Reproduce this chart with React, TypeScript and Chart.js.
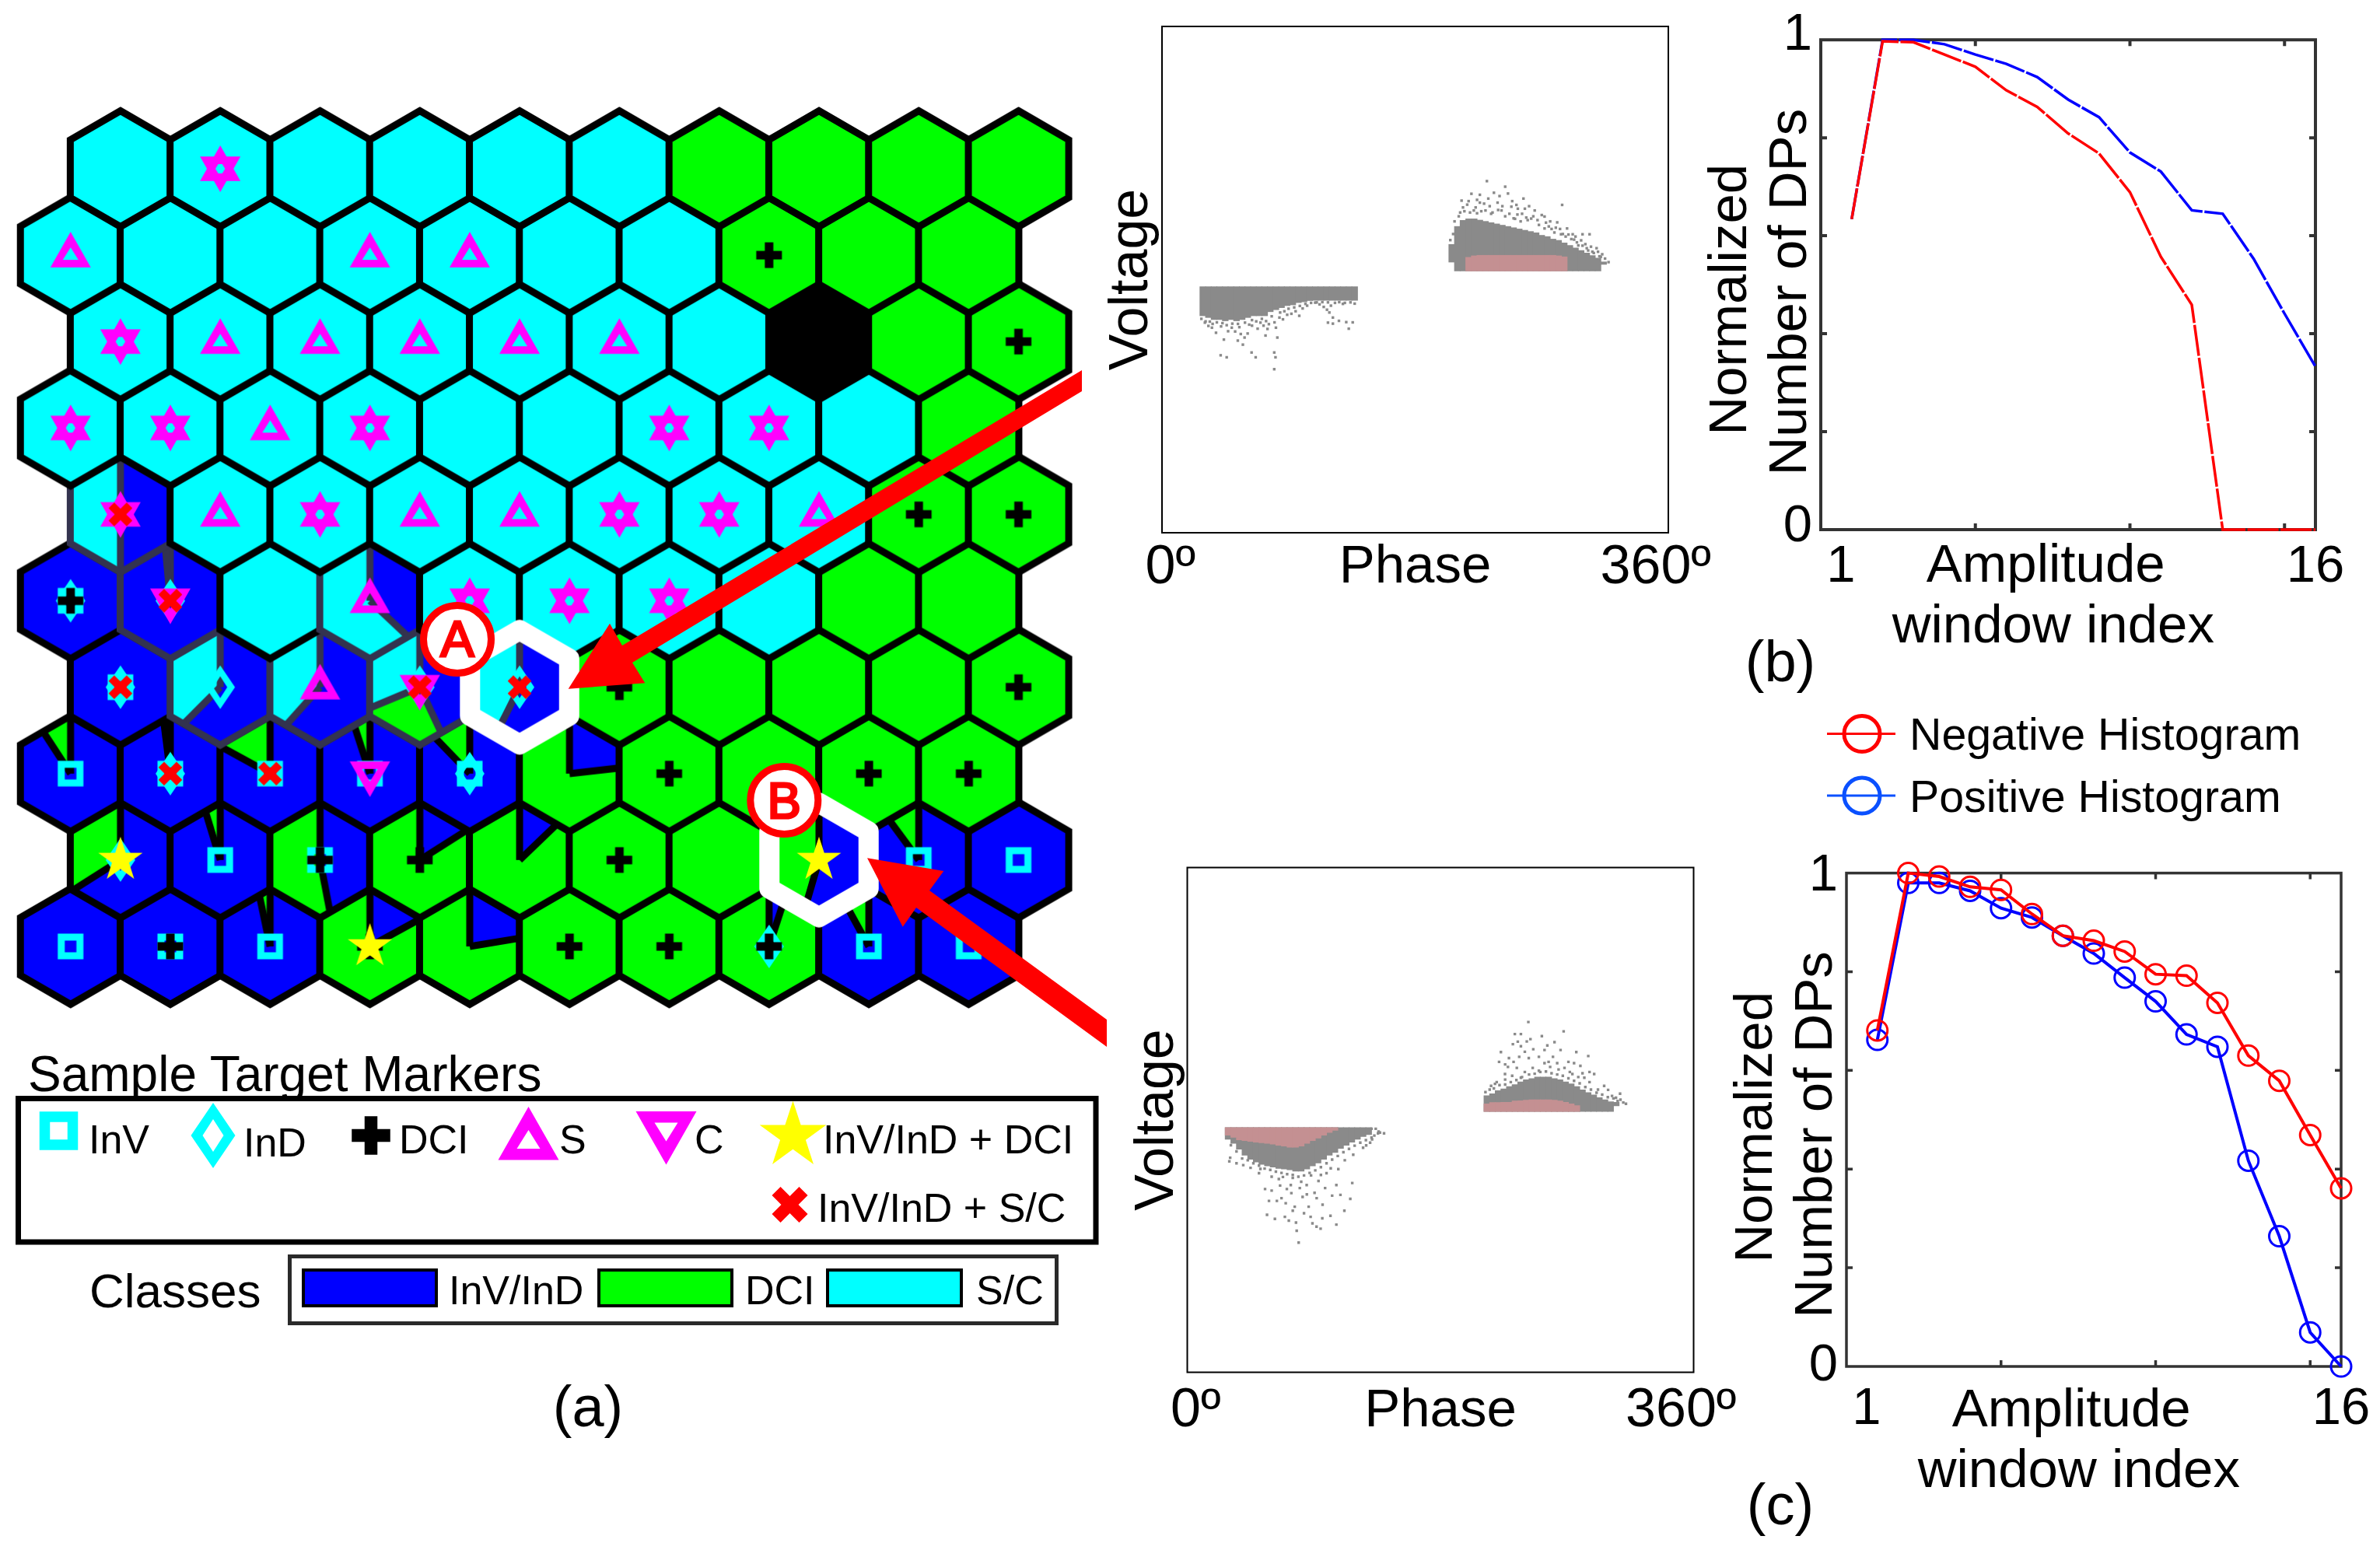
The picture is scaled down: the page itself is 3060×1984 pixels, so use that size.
import React, { useEffect, useRef } from "react";
import { Chart, registerables } from "chart.js";

Chart.register(...registerables);

const FONT = "'Liberation Sans', Arial, sans-serif";

/* ---------- SOM map data (a) ---------- */
const CELL_CLASSES = [
  "CCCCCCGGGG",
  "CCCCCCCGGG",
  "CCCCCCCKGG",
  "CCCCCCCCCG",
  "CCCCCCCCGG",
  "BBCCCCCCGG",
  "BCCCCGGGGG",
  "BBBBBBGGGG",
  "BBBGGGGGGB",
  "BBBGGGGGBB",
];
// row, col, blue %, green %, cyan % (clockwise from 12 o'clock)
const MIXED_CELLS: number[][] = [
  [4, 0, 50, 0, 50],
  [5, 1, 98.5, 0, 1.5],
  [5, 3, 37, 0, 63],
  [6, 1, 62.5, 0, 37.5],
  [6, 2, 61.6, 0, 38.4],
  [6, 3, 43, 25.7, 31.3],
  [6, 4, 57.4, 0, 42.6],
  [7, 0, 90.8, 9.2, 0],
  [7, 1, 98, 2, 0],
  [7, 2, 83, 17, 0],
  [7, 3, 95, 5, 0],
  [7, 4, 87.8, 12.2, 0],
  [7, 5, 23.2, 76.8, 0],
  [8, 0, 66, 34, 0],
  [8, 1, 95.3, 4.7, 0],
  [8, 2, 47, 53, 0],
  [8, 3, 16, 84, 0],
  [8, 4, 12.8, 87.2, 0],
  [8, 7, 54.5, 45.5, 0],
  [8, 8, 89.9, 10.1, 0],
  [9, 2, 96.7, 3.3, 0],
  [9, 3, 17, 83, 0],
  [9, 4, 22.4, 77.6, 0],
  [9, 7, 5, 95, 0],
  [9, 8, 92, 8, 0],
];
const GRAY_OUTLINE_CELLS = [[4, 0], [5, 1], [6, 1], [6, 2], [5, 3], [6, 3], [6, 4]];
const HIGHLIGHT_CELLS = [[6, 4], [8, 7]];

const INV_CELLS = [[5, 0], [6, 0], [7, 0], [7, 1], [7, 2], [7, 3], [7, 4], [8, 1], [8, 2], [8, 8], [8, 9], [9, 0], [9, 1], [9, 2], [9, 8], [9, 9]];
const IND_CELLS = [[5, 0], [5, 1], [6, 0], [6, 1], [6, 3], [6, 4], [7, 1], [7, 4], [8, 0], [9, 7]];
const DCI_CELLS = [[1, 7], [2, 9], [4, 8], [4, 9], [5, 0], [6, 5], [6, 9], [7, 6], [7, 8], [7, 9], [8, 2], [8, 3], [8, 5], [9, 1], [9, 3], [9, 5], [9, 6], [9, 7]];
const S_CELLS = [[0, 1], [1, 0], [1, 3], [1, 4], [2, 0], [2, 1], [2, 2], [2, 3], [2, 4], [2, 5], [3, 0], [3, 1], [3, 2], [3, 3], [3, 6], [3, 7], [4, 0], [4, 1], [4, 2], [4, 3], [4, 4], [4, 5], [4, 6], [4, 7], [5, 3], [5, 4], [5, 5], [5, 6], [6, 2]];
const C_CELLS = [[0, 1], [2, 0], [3, 0], [3, 1], [3, 3], [3, 6], [3, 7], [4, 0], [4, 2], [4, 5], [4, 6], [5, 1], [5, 4], [5, 5], [5, 6], [6, 3], [7, 3]];
const STAR_CELLS = [[8, 0], [8, 7], [9, 3]];
const CROSS_CELLS = [[4, 0], [5, 1], [6, 0], [6, 3], [6, 4], [7, 1], [7, 2]];

/* ---------- Phase-voltage panel (b) ---------- */
const B_NEG_PHASE = [29, 33, 37, 41, 45, 49, 53, 57, 61, 65, 69, 73, 77, 81, 85, 89, 93, 97, 101, 105, 109, 113, 117, 121, 125, 129, 133, 137];
const B_NEG_LOW = [-14.3, -15, -15.8, -15.8, -16.3, -15.8, -16.3, -15.8, -15, -14.3, -14.3, -14.3, -12.7, -11.9, -11.1, -10.3, -10, -9.1, -8.8, -8.3, -8.2, -8.2, -8.2, -8.2, -8.2, -8.2, -8.2, -8.2];
const B_NEG_HIGH = [-2.8, -2.8, -2.8, -2.8, -2.8, -2.8, -2.8, -2.8, -2.8, -2.8, -2.8, -2.8, -2.8, -2.8, -2.8, -2.8, -2.8, -2.8, -2.8, -2.8, -2.8, -2.8, -2.8, -2.8, -2.8, -2.8, -2.8, -2.8];
const B_POS_PHASE = [206, 210, 214, 218, 222, 226, 230, 234, 238, 242, 246, 250, 254, 258, 262, 266, 270, 274, 278, 282, 286, 290, 294, 298, 302, 306, 310, 314];
const B_POS_LOW = [6.9, 3.4, 3.4, 3.4, 3.4, 3.4, 3.4, 3.4, 3.4, 3.4, 3.4, 3.4, 3.4, 3.4, 3.4, 3.4, 3.4, 3.4, 3.4, 3.4, 3.4, 3.4, 3.4, 3.4, 3.4, 3.4, 3.4, 6];
const B_POS_HIGH = [13.9, 21, 23.4, 24, 24, 23.5, 23, 22.5, 22, 21.5, 21, 20.5, 20, 19.5, 19, 18.5, 17.5, 17, 16, 15.5, 14.5, 13.5, 12.5, 11.5, 10.5, 9.5, 8.5, 7];
const B_PINK_PHASE = [218, 222, 226, 230, 234, 238, 242, 246, 250, 254, 258, 262, 266, 270, 274, 278, 282, 286];
const B_PINK_LOW = [3.4, 3.4, 3.4, 3.4, 3.4, 3.4, 3.4, 3.4, 3.4, 3.4, 3.4, 3.4, 3.4, 3.4, 3.4, 3.4, 3.4, 3.4];
const B_PINK_HIGH = [8.8, 9.4, 9.6, 9.6, 9.6, 9.6, 9.6, 9.6, 9.6, 9.6, 9.6, 9.6, 9.6, 9.6, 9.6, 9.6, 9.4, 9];
const B_NEG_DOTS = [[41.7, -29.9], [46, -30.7], [63.7, -28.8], [66.6, -30.7], [79.8, -28.8], [80.7, -30.7], [79.8, -35.4], [44, -23.7], [53.9, -24.1], [57.5, -25.7], [58.7, -22.9], [73.6, -22.1], [82, -22.9], [35.5, -19], [38.4, -21], [49.6, -19], [60.9, -21.3], [72.2, -18.2], [121.5, -17.4], [125.8, -16.3], [135.6, -16.9], [132.8, -19.4], [121.5, -15], [117.3, -11.9], [97.6, -14.3], [92, -13.5], [83.5, -15], [103.2, -10.3], [108.9, -9.1], [120.1, -10.3], [128.6, -9.6], [30.5, -17], [33, -18.3], [42, -18.5], [47, -20.4], [55, -18.8], [64, -18.2], [68, -19.4], [76, -17.6], [80, -16.9], [86, -15.7], [89, -13.9], [95, -12.5], [100, -11.4], [112, -9.8], [115, -10.8], [119, -13],
  [28, -15.5], [31, -16.5], [34, -16.6], [36, -17.5], [39, -16.9], [43, -17.2], [46, -18], [50, -17.4], [52, -20.5], [54, -17.5], [56, -21.5], [59, -17], [62, -17.8], [64, -16], [67, -16.5], [70, -17], [71, -15.5], [74, -16.4], [75, -19.5], [78, -14.5], [81, -19], [84, -13], [87, -12.5], [90, -11.5], [94, -11], [98, -10.4], [102, -9.6], [106, -9.2], [110, -9], [114, -8.9], [118, -9], [123, -9.2], [126, -8.9], [130, -9.2], [134, -9], [137, -9.5], [118, -17], [131, -16.8]];
const B_POS_DOTS = [[231, 38.9], [244, 36.7], [220, 33.9], [226, 33.5], [213, 31.2], [217, 29.6], [226, 30.4], [236, 34.3], [246, 34], [284.5, 29.5], [257, 32], [238.6, 30.4], [248.4, 28.8], [258, 28], [265, 27.3], [272, 24.9], [281, 22.6], [288, 20.2], [292, 17.9], [299, 17.9], [304, 17.9], [309, 12.4], [313, 10], [317.5, 6.9], [241.4, 27.3], [252.7, 25.7], [262.5, 24.1], [221.7, 27.3], [230, 27.3], [275, 21], [283.7, 17.9], [295, 14.7], [302, 12.4], [212, 26.5], [224, 26.2], [234, 26], [244, 25], [250, 24.2], [255, 23], [260, 23.5], [268, 21.6], [272, 20.2], [279, 18.6], [287, 17], [293, 15.8], [299, 13.4], [306, 11], [311, 9.2], [315, 8.3], [205, 15.6], [207, 18],
  [208, 23], [211, 25], [215, 27], [219, 26.5], [223, 28.5], [227, 27], [229, 30], [233, 29], [235, 26.5], [239, 27.5], [242, 29], [247, 26], [249, 31], [251, 24], [253, 28], [256, 26], [259, 24.5], [261, 29], [264, 25], [267, 23.5], [270, 25.5], [273, 22.5], [276, 23], [277, 20], [280, 20.5], [283, 20], [285, 18], [289, 17.8], [291, 16], [294, 17], [296, 13.5], [298, 15.5], [301, 14], [303, 11.5], [305, 13], [307, 10.5], [310, 11], [312, 9], [214, 28.5], [218, 31], [224, 31.5], [232, 32], [240, 33], [252, 29.5]];

/* ---------- Phase-voltage panel (c) ---------- */
const C_NEG_PHASE = [29, 33, 37, 41, 45, 49, 53, 57, 61, 65, 69, 73, 77, 81, 85, 89, 93, 97, 101, 105, 109, 113, 117, 121, 125, 129];
const C_NEG_LOW = [-7.7, -9.3, -11.6, -14, -15.6, -16.7, -17.6, -18.2, -18.7, -19.2, -19.5, -19.8, -20.3, -20.3, -19.5, -18.2, -17.1, -15.6, -14, -12.9, -11.3, -10.1, -8.8, -7.7, -6.6, -5.8];
const C_NEG_HIGH = [-3, -3, -3, -3, -3, -3, -3, -3, -3, -3, -3, -3, -3, -3, -3, -3, -3, -3, -3, -3, -3, -3, -3, -3, -3, -3];
const C_NEG_PINK_PHASE = [29, 33, 37, 41, 45, 49, 53, 57, 61, 65, 69, 73, 77, 81, 85, 89, 93, 97, 101, 105];
const C_NEG_PINK_LOW = [-6.1, -6.9, -7.9, -8.2, -8.5, -8.8, -9.1, -9.3, -9.6, -10.1, -10.4, -10.8, -10.8, -10.4, -9.3, -8.2, -7.2, -6.1, -5, -4.1];
const C_NEG_PINK_HIGH = [-3, -3, -3, -3, -3, -3, -3, -3, -3, -3, -3, -3, -3, -3, -3, -3, -3, -3, -3, -3];
const C_POS_PHASE = [213, 217, 221, 225, 229, 233, 237, 241, 245, 249, 253, 257, 261, 265, 269, 273, 277, 281, 285, 289, 293, 297, 301, 305];
const C_POS_LOW = [3.3, 3.3, 3.3, 3.3, 3.3, 3.3, 3.3, 3.3, 3.3, 3.3, 3.3, 3.3, 3.3, 3.3, 3.3, 3.3, 3.3, 3.3, 3.3, 3.3, 3.3, 3.3, 3.3, 5.6];
const C_POS_HIGH = [9.6, 10.4, 11.6, 12.3, 13.2, 14, 15.1, 15.9, 16.4, 17, 17, 17, 16.4, 15.9, 15.1, 14.3, 13.2, 11.9, 10.8, 9.9, 8.8, 8, 7.2, 7];
const C_POS_PINK_PHASE = [213, 217, 221, 225, 229, 233, 237, 241, 245, 249, 253, 257, 261, 265, 269, 273, 277];
const C_POS_PINK_LOW = [3.3, 3.3, 3.3, 3.3, 3.3, 3.3, 3.3, 3.3, 3.3, 3.3, 3.3, 3.3, 3.3, 3.3, 3.3, 3.3, 3.3];
const C_POS_PINK_HIGH = [6.4, 6.9, 6.9, 7, 7, 7.5, 7.6, 7.8, 8, 8, 8, 8, 7.8, 7.5, 7, 6.4, 5.7];
const C_NEG_DOTS = [[79.2, -48.6], [56.7, -37.6], [62.3, -39.2], [69.4, -38.4], [77.3, -40.7], [77.8, -43.9], [72.2, -39.9], [87.7, -38.4], [91.9, -42.3], [94.8, -43.1], [106, -41.5], [101.8, -38], [111.7, -36], [115.9, -31.3], [117.3, -25], [106, -25.8], [108.9, -29.7], [96.2, -33.6], [86.3, -34.4], [76.4, -34.4], [82, -30.5], [90.5, -28.9], [93.3, -24.2], [70.8, -27.4], [65.1, -23.4], [55.3, -27.4], [58.1, -32.1], [63.7, -32.1], [73.6, -25.8], [84.9, -25.8], [99, -21.1], [107.4, -19.5], [51, -21.1], [39.8, -17.9], [29.9, -16.4], [36.9, -10.1], [127.2, -10.1], [135.6, -5.3], [139.9, -5.3], [131.4, -7.7], [30.5, -15], [35, -17.2], [45, -19], [52, -19.4], [60, -22.5], [68, -22.6], [75, -23], [81, -24.5], [88, -22], [95, -21.8], [102, -19.2], [112, -16], [118, -13.8], [125, -11], [130, -9],
  [31, -10], [35, -12.5], [39, -15.3], [43, -16], [47, -17.2], [51, -18.1], [55, -19.3], [59, -19.8], [63, -20.5], [67, -21], [71, -21.5], [75, -21.8], [79, -22.5], [83, -22], [87, -21], [91, -20], [95, -18.7], [99, -17.2], [103, -15.7], [107, -14.3], [111, -12.8], [115, -11.5], [119, -10.2], [123, -9], [127, -8], [131, -7], [133, -6.2], [136, -4.6], [131, -3.5], [134, -3.5], [137, -5], [66, -26], [74, -29], [80, -27], [85, -29.5], [92, -31], [98, -27], [103, -30], [70, -33], [83, -37], [89, -41], [96, -39], [75, -36], [67, -31], [60, -28]];
const C_POS_DOTS = [[242.5, 38.8], [267.6, 35.1], [232.9, 34], [237.2, 34], [241.4, 31.1], [252.1, 33.2], [261.1, 30.8], [231.5, 30], [237.2, 29.2], [254, 27.7], [265.4, 27.7], [276.6, 26.9], [285.1, 25.3], [221.7, 23], [223, 26.9], [228.7, 24.5], [242.8, 24.5], [234.3, 20.6], [245.6, 20.6], [256.9, 23], [268.2, 20.6], [279.5, 21.4], [289.3, 18.2], [296.4, 13.5], [307.7, 10.4], [311.9, 6.4], [218.8, 14.3], [225.9, 18.2], [237.2, 16.7], [273.8, 18.2], [282.3, 16.7], [299.2, 11.9], [304.8, 8.8], [216, 13.5], [220, 15], [226, 16], [231, 17.5], [240, 19], [250, 19.5], [258, 21], [264, 20], [272, 19], [278, 17], [286, 15], [292, 12], [302, 9.5], [308, 8],
  [212, 11], [215, 12], [218, 12.5], [222, 13.8], [226, 14], [230, 15], [234, 15.8], [238, 17], [243, 18], [247, 18.3], [251, 19], [255, 19.2], [259, 18.5], [263, 18], [267, 17.5], [271, 16.5], [275, 15.5], [279, 14.5], [283, 13], [287, 12], [291, 10.8], [295, 10], [299, 9], [303, 8.5], [306, 7.5], [310, 6.9], [228, 21], [232, 23], [236, 25], [240, 27], [246, 28], [250, 25], [254, 22.5], [260, 25], [263, 22.5], [271, 23], [275, 22.5], [281, 18.5], [286, 19], [226, 22], [235, 31], [244, 32], [256, 29.5]];

/* ---------- Histograms ---------- */
const WINDOWS = [1, 2, 3, 4, 5, 6, 7, 8, 9, 10, 11, 12, 13, 14, 15, 16];
const B_NEGATIVE = [0.634, 0.997, 0.995, 0.97, 0.945, 0.897, 0.863, 0.809, 0.768, 0.689, 0.557, 0.459, 0, 0, 0, 0];
const B_POSITIVE = [0.634, 1, 1, 0.991, 0.97, 0.951, 0.924, 0.878, 0.842, 0.77, 0.731, 0.652, 0.645, 0.553, 0.441, 0.333];
const C_NEGATIVE = [0.681, 1, 0.993, 0.972, 0.966, 0.917, 0.873, 0.863, 0.841, 0.795, 0.792, 0.737, 0.63, 0.579, 0.469, 0.361];
const C_POSITIVE = [0.662, 0.98, 0.98, 0.964, 0.929, 0.91, 0.873, 0.837, 0.788, 0.74, 0.673, 0.648, 0.417, 0.264, 0.069, 0];
const HIST_X_TICK_VALUES = [0.65, 16];
const HIST_X_TICK_LABELS = ["1", "16"];
const HIST_B_Y_TICK_VALUES = [0.005, 1.009];
const HIST_C_Y_TICK_VALUES = [0, 0.994];
const HIST_Y_TICK_LABELS = ["0", "1"];
const HIST_X_MARKS = [5, 10, 15];
const HIST_Y_MARKS = [0.2, 0.4, 0.6, 0.8];
const PHASE_TICK_VALUES = [6, 351];
const PHASE_TICK_LABELS = ["0º", "360º"];

/* ---------- drawing helpers ---------- */
const COLORS: Record<string, string> = { B: "#0000ff", G: "#00ff00", C: "#00ffff", K: "#000000" };
const LINE_BLACK = "#000000";
const LINE_GRAY = "#33334f";
const HEX_R = 74.5;
const HEX_W = 128.3;
const ROW_H = 111.1;
const MAP_X0 = 90.7;
const MAP_Y0 = 217;

type P = [number, number];
const plusContour = (a: number, t: number): P[] => [[-t, -a], [t, -a], [t, -t], [a, -t], [a, t], [t, t], [t, a], [-t, a], [-t, t], [-a, t], [-a, -t], [-t, -t]];
const rot45 = (c: P[]): P[] => c.map(([x, y]) => [(x - y) * Math.SQRT1_2, (x + y) * Math.SQRT1_2] as P);
const starContour = (R: number, r: number): P[] => {
  const out: P[] = [];
  for (let i = 0; i < 10; i++) {
    const a = (i * Math.PI) / 5;
    const q = i % 2 ? r : R;
    out.push([q * Math.sin(a), -q * Math.cos(a)]);
  }
  return out;
};
const MARKERS: Record<string, { color: string; contours: P[][] }> = {
  inv: { color: "#00ffff", contours: [[[-16.5, -16.5], [16.5, -16.5], [16.5, 16.5], [-16.5, 16.5]], [[-7.5, -7.5], [7.5, -7.5], [7.5, 7.5], [-7.5, 7.5]]] },
  ind: { color: "#00ffff", contours: [[[0, -28], [19, 0], [0, 28], [-19, 0]], [[0, -14], [9, 0], [0, 14], [-9, 0]]] },
  dci: { color: "#000000", contours: [plusContour(16.5, 5.5)] },
  s: { color: "#ff00ff", contours: [[[0, -30], [26, 15.7], [-26, 15.7]], [[0, -10], [10, 6], [-10, 6]]] },
  c: { color: "#ff00ff", contours: [[[0, 30], [26, -15.7], [-26, -15.7]], [[0, 10], [10, -6], [-10, -6]]] },
  star: { color: "#ffff00", contours: [starContour(30, 11.5)] },
  cross: { color: "#ff0000", contours: [rot45(plusContour(16.5, 5.2))] },
};
const markerCanvas = (kind: string) => {
  const cv = document.createElement("canvas");
  cv.width = 80;
  cv.height = 80;
  const ctx = cv.getContext("2d")!;
  ctx.translate(40, 40);
  ctx.fillStyle = MARKERS[kind].color;
  ctx.beginPath();
  MARKERS[kind].contours.forEach((c) => {
    c.forEach(([x, y], i) => (i ? ctx.lineTo(x, y) : ctx.moveTo(x, y)));
    ctx.closePath();
  });
  ctx.fill("evenodd");
  return cv;
};
const hexPath = (ctx: CanvasRenderingContext2D, R: number) => {
  ctx.beginPath();
  for (let i = 0; i < 6; i++) {
    const a = (i * Math.PI) / 3;
    const x = R * Math.sin(a);
    const y = -R * Math.cos(a);
    i ? ctx.lineTo(x, y) : ctx.moveTo(x, y);
  }
  ctx.closePath();
};
const cellCanvas = (row: number, col: number) => {
  const cv = document.createElement("canvas");
  cv.width = 180;
  cv.height = 180;
  const ctx = cv.getContext("2d")!;
  ctx.translate(90, 90);
  const mixed = MIXED_CELLS.find((m) => m[0] === row && m[1] === col);
  const gray = GRAY_OUTLINE_CELLS.some((m) => m[0] === row && m[1] === col);
  const line = gray ? LINE_GRAY : LINE_BLACK;
  hexPath(ctx, HEX_R);
  if (!mixed) {
    ctx.fillStyle = COLORS[CELL_CLASSES[row][col]];
    ctx.fill();
  } else {
    ctx.save();
    ctx.clip();
    let start = 0;
    const bounds: number[] = [];
    const names = ["B", "G", "C"];
    mixed.slice(2).forEach((pct, i) => {
      if (!pct) return;
      const end = start + (pct / 100) * 2 * Math.PI;
      ctx.fillStyle = COLORS[names[i]];
      ctx.beginPath();
      ctx.moveTo(0, 0);
      ctx.arc(0, 0, 120, start - Math.PI / 2, end - Math.PI / 2);
      ctx.closePath();
      ctx.fill();
      bounds.push(start);
      start = end;
    });
    ctx.strokeStyle = line;
    ctx.lineWidth = 9;
    bounds.forEach((a) => {
      ctx.beginPath();
      ctx.moveTo(0, 0);
      ctx.lineTo(120 * Math.sin(a), -120 * Math.cos(a));
      ctx.stroke();
    });
    ctx.restore();
  }
  hexPath(ctx, HEX_R);
  ctx.strokeStyle = line;
  ctx.lineWidth = 9;
  ctx.lineJoin = "miter";
  ctx.stroke();
  return cv;
};
const highlightCanvas = () => {
  const cv = document.createElement("canvas");
  cv.width = 190;
  cv.height = 190;
  const ctx = cv.getContext("2d")!;
  ctx.translate(95, 95);
  hexPath(ctx, 73.6);
  ctx.strokeStyle = "#ffffff";
  ctx.lineWidth = 26;
  ctx.lineJoin = "round";
  ctx.stroke();
  return cv;
};
const cellXY = ([row, col]: number[]) => ({ x: col + (row % 2 === 0 ? 0.5 : 0), y: row });

/* ---------- per chart layout ---------- */
type Box = { x: number; y: number; w: number; h: number };
type Area = { l: number; t: number; r: number; b: number };
const fixLayout = (box: Box, area: Area) => ({
  autoPadding: false,
  padding: { left: 0, top: area.t - box.y, right: box.x + box.w - area.r, bottom: 0 },
});
const fitY = (box: Box, area: Area) => (s: any) => { s.width = area.l - box.x; };
const fitX = (box: Box, area: Area) => (s: any) => { s.height = box.y + box.h - area.b; };

const framePlugin = (color: string, width: number, xm: number[], ym: number[]) => ({
  id: "frame",
  beforeDatasetsDraw(chart: any) {
    const { ctx, chartArea: a, scales } = chart;
    ctx.save();
    ctx.strokeStyle = color;
    ctx.lineWidth = width;
    ctx.strokeRect(a.left, a.top, a.right - a.left, a.bottom - a.top);
    xm.forEach((v) => {
      const p = scales.x.getPixelForValue(v);
      ctx.beginPath();
      ctx.moveTo(p, a.bottom); ctx.lineTo(p, a.bottom - 8);
      ctx.moveTo(p, a.top); ctx.lineTo(p, a.top + 8);
      ctx.stroke();
    });
    ym.forEach((v) => {
      const p = scales.y.getPixelForValue(v);
      ctx.beginPath();
      ctx.moveTo(a.left, p); ctx.lineTo(a.left + 8, p);
      ctx.moveTo(a.right, p); ctx.lineTo(a.right - 8, p);
      ctx.stroke();
    });
    ctx.restore();
  },
});

const BASE = {
  responsive: false,
  animation: false as const,
  events: [] as any[],
  plugins: { legend: { display: false }, tooltip: { enabled: false } },
};

const mapConfig = (box: Box) => {
  const cells: { x: number; y: number }[] = [];
  const canvases: HTMLCanvasElement[] = [];
  for (let r = CELL_CLASSES.length - 1; r >= 0; r--) {
    for (let c = 0; c < CELL_CLASSES[r].length; c++) {
      cells.push(cellXY([r, c]));
      canvases.push(cellCanvas(r, c));
    }
  }
  const layer = (name: string, list: number[][], style: HTMLCanvasElement) => ({
    type: "scatter",
    label: name,
    data: list.map(cellXY),
    pointStyle: style,
    pointRadius: 10,
    clip: false,
  });
  const layers = [
    { type: "scatter", label: "Cells", data: cells, pointStyle: (c: any) => canvases[c.dataIndex], pointRadius: 10, clip: false },
    layer("Selected", HIGHLIGHT_CELLS, highlightCanvas()),
    layer("InV", INV_CELLS, markerCanvas("inv")),
    layer("InD", IND_CELLS, markerCanvas("ind")),
    layer("DCI", DCI_CELLS, markerCanvas("dci")),
    layer("S", S_CELLS, markerCanvas("s")),
    layer("C", C_CELLS, markerCanvas("c")),
    layer("InV/InD + DCI", STAR_CELLS, markerCanvas("star")),
    layer("InV/InD + S/C", CROSS_CELLS, markerCanvas("cross")),
  ];
  return {
    type: "scatter",
    data: { datasets: layers.map((d, i) => ({ ...d, order: layers.length - i })) },
    options: {
      ...BASE,
      layout: { padding: 0, autoPadding: false },
      scales: {
        x: { type: "linear", display: false, min: (box.x - MAP_X0) / HEX_W, max: (box.x + box.w - MAP_X0) / HEX_W },
        y: { type: "linear", display: false, reverse: true, min: (box.y - MAP_Y0) / ROW_H, max: (box.y + box.h - MAP_Y0) / ROW_H },
      },
    },
  };
};

const bandData = (xs: number[], lo: number[], hi: number[]) => xs.map((x, i) => ({ x, y: [lo[i], hi[i]] }));

const GRAY_DOT = "#8a8a8a";
const PINK = "#c49092";
const phaseConfig = (box: Box, area: Area, bands: any[][], pink: any[][], dots: number[][], bottomPad: number, tickPad: number, voltagePad: number) => {
  const ds: any[] = [];
  pink.forEach((d) => ds.push({ type: "bar", data: d, backgroundColor: PINK, barThickness: 7.6, grouped: false, order: 1 }));
  bands.forEach((d) => ds.push({ type: "bar", data: d, backgroundColor: GRAY_DOT, barThickness: 7.6, grouped: false, order: 2 }));
  ds.push({ type: "scatter", data: dots.map(([x, y]) => ({ x, y })), pointStyle: "rect", pointRadius: 2.4, backgroundColor: GRAY_DOT, borderWidth: 0, order: 3 });
  return {
    type: "bar",
    data: { datasets: ds },
    options: {
      ...BASE,
      layout: fixLayout(box, area),
      scales: {
        x: {
          type: "linear", min: 0, max: 360, offset: false,
          afterFit: fitX(box, area),
          afterBuildTicks: (s: any) => { s.ticks = PHASE_TICK_VALUES.map((value) => ({ value })); },
          grid: { display: false, drawTicks: false, offset: false },
          border: { display: false },
          ticks: { autoSkip: false, maxRotation: 0, padding: tickPad, color: "#000", font: { family: FONT, size: 70 }, callback: (_: any, i: number) => PHASE_TICK_LABELS[i] },
          title: { display: true, text: "Phase", color: "#000", font: { family: FONT, size: 69 }, padding: { top: 0, bottom: bottomPad } },
        },
        y: {
          type: "linear", min: -100, max: 100,
          afterFit: fitY(box, area),
          grid: { display: false, drawTicks: false },
          border: { display: false },
          ticks: { display: false },
          title: { display: true, text: "Voltage", color: "#000", font: { family: FONT, size: 70 }, padding: { top: voltagePad, bottom: 0 } },
        },
      },
    },
    plugins: [framePlugin("#000", 2, [], [])],
  };
};

const histConfig = (box: Box, area: Area, neg: number[], pos: number[], opts: any) => {
  const series = (label: string, vals: number[], color: string) => ({
    type: "line",
    label,
    data: WINDOWS.map((x, i) => ({ x, y: vals[i] })),
    borderColor: color,
    backgroundColor: "transparent",
    borderWidth: opts.lineWidth,
    borderDash: opts.dash,
    pointRadius: opts.pointRadius,
    pointBorderWidth: 3,
    pointBorderColor: color,
    pointBackgroundColor: "transparent",
    tension: 0,
    clip: false,
  });
  return {
    type: "line",
    data: { datasets: [series("Negative Histogram", neg, "#ff0000"), series("Positive Histogram", pos, "#0000ff")] },
    options: {
      ...BASE,
      layout: fixLayout(box, area),
      scales: {
        x: {
          type: "linear", min: 0, max: 16,
          afterFit: fitX(box, area),
          afterBuildTicks: (s: any) => { s.ticks = HIST_X_TICK_VALUES.map((value) => ({ value })); },
          grid: { display: false, drawTicks: false },
          border: { display: false },
          ticks: { autoSkip: false, maxRotation: 0, padding: opts.xTickPad, color: "#000", font: { family: FONT, size: 67 }, callback: (_: any, i: number) => HIST_X_TICK_LABELS[i] },
          title: {
            display: true,
            text: ["Amplitude   ", "window index  "],
            color: "#000",
            font: { family: FONT, size: 69, lineHeight: 1.13 },
            padding: { top: 0, bottom: opts.xTitlePad },
          },
        },
        y: {
          type: "linear", min: 0, max: 1,
          afterFit: fitY(box, area),
          afterBuildTicks: (s: any) => { s.ticks = opts.yTicks.map((value: number) => ({ value })); },
          grid: { display: false, drawTicks: false },
          border: { display: false },
          ticks: { autoSkip: false, padding: opts.yTickPad, color: "#000", font: { family: FONT, size: 67 }, callback: (_: any, i: number) => HIST_Y_TICK_LABELS[i] },
          title: {
            display: true,
            text: opts.yTitle,
            color: "#000",
            font: { family: FONT, size: 69, lineHeight: 1.13 },
            padding: { top: opts.yTitlePad, bottom: 0 },
          },
        },
      },
    },
    plugins: [framePlugin("#333333", opts.frame, HIST_X_MARKS, HIST_Y_MARKS)],
  };
};

const ChartCanvas = ({ box, make }: { box: Box; make: () => any }) => {
  const ref = useRef<HTMLCanvasElement>(null);
  useEffect(() => {
    const chart = new Chart(ref.current as any, make());
    return () => chart.destroy();
  }, []);
  return <canvas ref={ref} width={box.w} height={box.h} style={{ position: "absolute", left: box.x, top: box.y, width: box.w, height: box.h }} />;
};

const Txt = ({ x, base, size, children, color = "#000", center = false, extra = {} }: any) => (
  <div
    style={{
      position: "absolute",
      left: x,
      top: base - 0.8465 * size,
      fontFamily: FONT,
      fontSize: size,
      lineHeight: 1,
      whiteSpace: "nowrap",
      color,
      transform: center ? "translateX(-50%)" : undefined,
      ...extra,
    }}
  >
    {children}
  </div>
);

const Icon = ({ kind, cx, cy, k = 1.5 }: { kind: string; cx: number; cy: number; k?: number }) => (
  <path
    fill={MARKERS[kind].color}
    fillRule="evenodd"
    d={MARKERS[kind].contours
      .map((c) => c.map(([x, y], i) => `${i ? "L" : "M"}${cx + x * k} ${cy + y * k}`).join(" ") + " Z")
      .join(" ")}
  />
);

const MAP_BOX = { x: 0, y: 0, w: 1430, h: 1350 };
const SB_BOX = { x: 1400, y: 0, w: 860, h: 800 };
const SB_AREA = { l: 1494, t: 34, r: 2145, b: 685 };
const SC_BOX = { x: 1440, y: 1080, w: 840, h: 800 };
const SC_AREA = { l: 1526.5, t: 1115.5, r: 2177.5, b: 1764.5 };
const HB_BOX = { x: 2180, y: 0, w: 880, h: 880 };
const HB_AREA = { l: 2341, t: 41, r: 2977, b: 681 };
const HC_BOX = { x: 2200, y: 1060, w: 900, h: 900 };
const HC_AREA = { l: 2374, t: 1122.6, r: 3010, b: 1757 };

export default function App() {
  return (
    <div style={{ position: "absolute", left: 0, top: 0, width: 3060, height: 1984, overflow: "hidden", background: "#fff" }}>
      <ChartCanvas box={MAP_BOX} make={() => mapConfig(MAP_BOX)} />
      <ChartCanvas
        box={SB_BOX}
        make={() => phaseConfig(SB_BOX, SB_AREA,
          [bandData(B_NEG_PHASE, B_NEG_LOW, B_NEG_HIGH), bandData(B_POS_PHASE, B_POS_LOW, B_POS_HIGH)],
          [bandData(B_PINK_PHASE, B_PINK_LOW, B_PINK_HIGH)],
          [...B_NEG_DOTS, ...B_POS_DOTS], 28.2, 3.6, 13.4)}
      />
      <ChartCanvas
        box={SC_BOX}
        make={() => phaseConfig(SC_BOX, SC_AREA,
          [bandData(C_NEG_PHASE, C_NEG_LOW, C_NEG_HIGH), bandData(C_POS_PHASE, C_POS_LOW, C_POS_HIGH)],
          [bandData(C_NEG_PINK_PHASE, C_NEG_PINK_LOW, C_NEG_PINK_HIGH), bandData(C_POS_PINK_PHASE, C_POS_PINK_LOW, C_POS_PINK_HIGH)],
          [...C_NEG_DOTS, ...C_POS_DOTS], 23.6, 8.5, 6.4)}
      />
      <ChartCanvas
        box={HB_BOX}
        make={() => histConfig(HB_BOX, HB_AREA, B_NEGATIVE, B_POSITIVE, { yTicks: HIST_B_Y_TICK_VALUES, yTitle: ["Normalized  ", "Number of DPs "], lineWidth: 3.5, dash: [40, 2.5], pointRadius: 0, frame: 4, xTickPad: 8.8, yTickPad: 11, xTitlePad: 33.75, yTitlePad: 6.5 })}
      />
      <ChartCanvas
        box={HC_BOX}
        make={() => histConfig(HC_BOX, HC_AREA, C_NEGATIVE, C_POSITIVE, { yTicks: HIST_C_Y_TICK_VALUES, yTitle: ["Normalized ", "Number of DPs  "], lineWidth: 4, dash: [], pointRadius: 13, frame: 3.5, xTickPad: 15.8, yTickPad: 11, xTitlePad: 27.75, yTitlePad: 19.5 })}
      />

      <svg width={3060} height={1984} style={{ position: "absolute", left: 0, top: 0, pointerEvents: "none" }}>
        {/* call-out arrows */}
        <polygon fill="#ff0000" points="730.7,885.7 784,801.7 800,830 1391,476 1391,503 813,852 829.3,878.3" />
        <polygon fill="#ff0000" points="1115,1103.3 1213.3,1120 1195,1145 1423,1311 1423,1346 1178,1167 1160.7,1191.7" />
        <circle cx={588} cy={822} r={43.5} fill="#fff" stroke="#ff0000" strokeWidth={9} />
        <circle cx={1008.3} cy={1029} r={43.5} fill="#fff" stroke="#ff0000" strokeWidth={9} />

        {/* marker legend */}
        <rect x={23.5} y={1412.5} width={1385.5} height={184.5} fill="none" stroke="#000" strokeWidth={7} />
        <Icon kind="inv" cx={75.5} cy={1454} />
        <Icon kind="ind" cx={274} cy={1460} />
        <Icon kind="dci" cx={477} cy={1460} />
        <Icon kind="s" cx={679.5} cy={1468} />
        <Icon kind="c" cx={856.5} cy={1452.5} />
        <Icon kind="star" cx={1019.5} cy={1460.5} />
        <Icon kind="cross" cx={1015.5} cy={1549} />

        {/* class legend */}
        <rect x={372.5} y={1615.5} width={986} height={86} fill="none" stroke="#2a2a2a" strokeWidth={5} />
        <rect x={390} y={1633} width={171} height={46} fill="#0000ff" stroke="#000" strokeWidth={4} />
        <rect x={770} y={1633} width={171} height={46} fill="#00ff00" stroke="#000" strokeWidth={4} />
        <rect x={1064} y={1633} width={172} height={46} fill="#00ffff" stroke="#000" strokeWidth={4} />

        {/* histogram legend */}
        <line x1={2349} x2={2437} y1={943.5} y2={943.5} stroke="#ff0000" strokeWidth={3} />
        <circle cx={2394} cy={943.5} r={23} fill="none" stroke="#ff0000" strokeWidth={5} />
        <line x1={2349} x2={2437} y1={1023} y2={1023} stroke="#0a50ff" strokeWidth={3} />
        <circle cx={2394} cy={1023} r={23} fill="none" stroke="#0a50ff" strokeWidth={5} />
      </svg>

      <Txt x={588} base={844} size={65} color="#ff0000" center extra={{ WebkitTextStroke: "3px #ff0000" }}>A</Txt>
      <Txt x={1008.3} base={1052} size={65} color="#ff0000" center extra={{ WebkitTextStroke: "3px #ff0000" }}>B</Txt>

      <Txt x={36} base={1403} size={64}>Sample Target Markers</Txt>
      <Txt x={114} base={1483} size={52}>InV</Txt>
      <Txt x={313} base={1487} size={52}>InD</Txt>
      <Txt x={513} base={1483} size={52}>DCI</Txt>
      <Txt x={719} base={1483} size={52}>S</Txt>
      <Txt x={893} base={1483} size={52}>C</Txt>
      <Txt x={1058} base={1483} size={52}>InV/InD + DCI</Txt>
      <Txt x={1051} base={1571} size={52}>InV/InD + S/C</Txt>

      <Txt x={115} base={1681} size={62}>Classes</Txt>
      <Txt x={577} base={1677} size={52}>InV/InD</Txt>
      <Txt x={958} base={1677} size={52}>DCI</Txt>
      <Txt x={1255} base={1677} size={52}>S/C</Txt>

      <Txt x={756} base={1835} size={74} center>(a)</Txt>
      <Txt x={2289} base={877} size={74} center>(b)</Txt>
      <Txt x={2289} base={1961} size={74} center>(c)</Txt>

      <Txt x={2455} base={965} size={57.3}>Negative Histogram</Txt>
      <Txt x={2455} base={1045} size={57.3}>Positive Histogram</Txt>
    </div>
  );
}
